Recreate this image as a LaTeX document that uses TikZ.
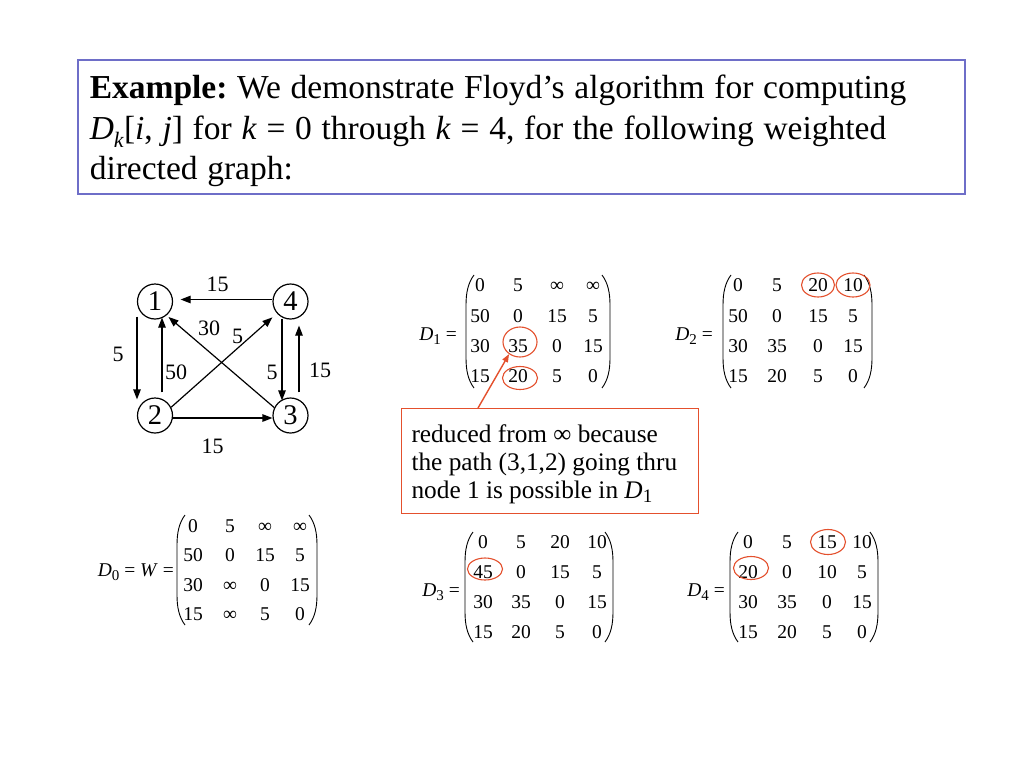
\documentclass[tikz,border=0pt]{standalone}
\usepackage{fontspec}
\setmainfont{Liberation Serif}
\usetikzlibrary{arrows.meta,shapes.geometric}
\definecolor{boxblue}{RGB}{110,110,200}
\definecolor{hlred}{RGB}{228,80,45}
\newcommand\msub[1]{\raisebox{-4pt}{\fontsize{15}{15}\selectfont #1}}
\newcommand\widespaces{\frenchspacing\spaceskip=0.29em\relax}
\newcommand\drawparens[4]{%
  \draw[paren] (#1+8,#3) .. controls (#1+2,#3+8) and (#1,#3+18) .. (#1,#3+30) -- (#1,#4-30) .. controls (#1,#4-18) and (#1+2,#4-8) .. (#1+8,#4);
  \draw[paren] (#2-8,#3) .. controls (#2-2,#3+8) and (#2,#3+18) .. (#2,#3+30) -- (#2,#4-30) .. controls (#2,#4-18) and (#2-2,#4-8) .. (#2-8,#4);}
\newcommand\mrow[4]{%
  \foreach \v [count=\i] in {#4} {%
    \pgfmathsetmacro\xx{{#3}[\i-1]}%
    \node[ent] (#1\i) at (\xx,#2) {\v};}}
\begin{document}
\begin{tikzpicture}[x=1pt,y=-1pt,
  gnode/.style={circle,draw,line width=1.2pt,minimum size=35pt,inner sep=0pt,font=\fontsize{28.5}{28.5}\selectfont},
  gedge/.style={line width=1.2pt,-{Triangle[length=10pt,width=7.5pt]}},
  elab/.style={inner sep=0pt,font=\fontsize{22}{22}\selectfont},
  ent/.style={inner sep=0pt,text height=13.2pt,text depth=0pt,font=\fontsize{19.5}{19.5}\selectfont},
  mlab/.style={inner sep=0pt,font=\fontsize{19.5}{19.5}\selectfont},
  paren/.style={line width=0.9pt},
  hl/.style={ellipse,draw=hlred,line width=1.1pt,inner sep=0pt},
  hlarrow/.style={draw=hlred,line width=1.4pt,-{Triangle[length=8pt,width=6pt]},fill=hlred},
  titlebox/.style={draw=boxblue,line width=1.5pt,align=flush left},
  callbox/.style={draw=hlred,line width=1.1pt,align=flush left}]
\fill[white] (0,0) rectangle (1024,768);
\useasboundingbox (0,0) rectangle (1024,768);

% title
\node[titlebox,anchor=north west,text width=863pt,inner xsep=12pt,inner ysep=0pt,font=\fontsize{33.5}{40.5}\selectfont] (title) at (77,59)
 {\widespaces\rule{0pt}{39pt}\textbf{Example:} We demonstrate Floyd’s algorithm for computing\\
  \textit{D}\raisebox{-8pt}{\fontsize{22}{22}\selectfont\textit{k}}[\textit{i}, \textit{j}] for \textit{k} = 0 through \textit{k} = 4, for the following weighted\\
  directed graph:\rule[-14pt]{0pt}{14pt}};

% graph
\node[gnode] (n1) at (155,301.5) {1};
\node[gnode] (n4) at (290.5,301.5) {4};
\node[gnode] (n2) at (155,415.5) {2};
\node[gnode] (n3) at (290.5,415.5) {3};
\draw[gedge] ([yshift=2pt]n4.west) -- ([xshift=7.5pt,yshift=2pt]n1.east);
\draw[gedge] ([xshift=-18pt,yshift=3pt]n1.south) -- ([xshift=-18pt,yshift=-2pt]n2.north);
\draw[gedge] ([xshift=7pt,yshift=5pt]n2.north) -- ([xshift=7pt,yshift=2pt]n1.south);
\draw[gedge] ([xshift=-8.5pt,yshift=1pt]n4.south) -- ([xshift=-8.5pt,yshift=-3pt]n3.north);
\draw[gedge] ([xshift=8.5pt,yshift=5pt]n3.north) -- ([xshift=8.5pt,yshift=-6pt]n4.south);
\draw[gedge] ([yshift=-2.5pt]n2.east) -- ([yshift=-2.5pt]n3.west);
\draw[gedge,shorten >=6pt] (n2.27) -- (n4.221);
\draw[gedge,shorten >=2.5pt] (n3.154) -- (n1.-50);
\node[elab] (l41) at (217.5,284.5) {15};
\node[elab] (l12) at (118,354.5) {5};
\node[elab] (l21) at (176,372.5) {50};
\node[elab] (l43) at (272,372.5) {5};
\node[elab] (l34) at (320,370) {15};
\node[elab] (l23) at (212.5,446.5) {15};
\node[elab] (l24) at (237.5,336) {5};
\node[elab] (l31) at (209,328.5) {30};

% D1
\node[mlab,anchor=base east] (lab1) at (457,340) {\textit{D}\msub{1} =};
\mrow{da1c}{285}{480,518,557,593}{0,5,∞,∞}
\mrow{db1c}{316}{480,518,557,593}{50,0,15,5}
\mrow{dc1c}{346}{480,518,557,593}{30,35,0,15}
\mrow{dd1c}{376}{480,518,557,593}{15,20,5,0}
\drawparens{466}{610}{275}{388}
\node[hl,minimum width=34pt,minimum height=30pt] (c35) at (520,342) {};
\node[hl,minimum width=35pt,minimum height=23pt] (c20a) at (520,378) {};

% D2
\node[mlab,anchor=base east] (lab2) at (713,340) {\textit{D}\msub{2} =};
\mrow{da2c}{285}{738,777,818,853}{0,5,20,10}
\mrow{db2c}{316}{738,777,818,853}{50,0,15,5}
\mrow{dc2c}{346}{738,777,818,853}{30,35,0,15}
\mrow{dd2c}{376}{738,777,818,853}{15,20,5,0}
\drawparens{723}{872}{275}{388}
\node[hl,minimum width=33pt,minimum height=24pt] (c20b) at (818,285) {};
\node[hl,minimum width=34pt,minimum height=24pt] (c10) at (853,285) {};

% callout
\node[callbox,anchor=north west,text width=277pt,inner xsep=10pt,inner ysep=0pt,font=\fontsize{25.3}{28}\selectfont] (callout) at (401,408)
 {\rule{0pt}{33.7pt}reduced from ∞ because\\
  the path (3,1,2) going thru\\
  node 1 is possible in \textit{D}\raisebox{-4pt}{\fontsize{19}{19}\selectfont 1}\rule[-15.3pt]{0pt}{15.3pt}};
\draw[hlarrow] ([xshift=77pt]callout.north west) -- (c35.228);

% D0
\node[mlab,anchor=base east] (lab0) at (174,576) {\textit{D}\msub{0} = \textit{W} =};
\mrow{da0c}{526}{193,230,265,300}{0,5,∞,∞}
\mrow{db0c}{555}{193,230,265,300}{50,0,15,5}
\mrow{dc0c}{585}{193,230,265,300}{30,∞,0,15}
\mrow{dd0c}{614}{193,230,265,300}{15,∞,5,0}
\drawparens{177}{317}{515}{625}

% D3
\node[mlab,anchor=base east] (lab3) at (460,596) {\textit{D}\msub{3} =};
\mrow{da3c}{542}{483,521,560,597}{0,5,20,10}
\mrow{db3c}{572}{483,521,560,597}{45,0,15,5}
\mrow{dc3c}{602}{483,521,560,597}{30,35,0,15}
\mrow{dd3c}{632}{483,521,560,597}{15,20,5,0}
\drawparens{465}{613}{532}{642}
\node[hl,minimum width=35pt,minimum height=22pt] (c45) at (485,569) {};

% D4
\node[mlab,anchor=base east] (lab4) at (725,596) {\textit{D}\msub{4} =};
\mrow{da4c}{542}{748,787,827,862}{0,5,15,10}
\mrow{db4c}{572}{748,787,827,862}{20,0,10,5}
\mrow{dc4c}{602}{748,787,827,862}{30,35,0,15}
\mrow{dd4c}{632}{748,787,827,862}{15,20,5,0}
\drawparens{730}{878}{532}{642}
\node[hl,minimum width=35pt,minimum height=25pt] (c15) at (828,542) {};
\node[hl,minimum width=35pt,minimum height=23pt] (c20c) at (751,568) {};
\end{tikzpicture}
\end{document}
